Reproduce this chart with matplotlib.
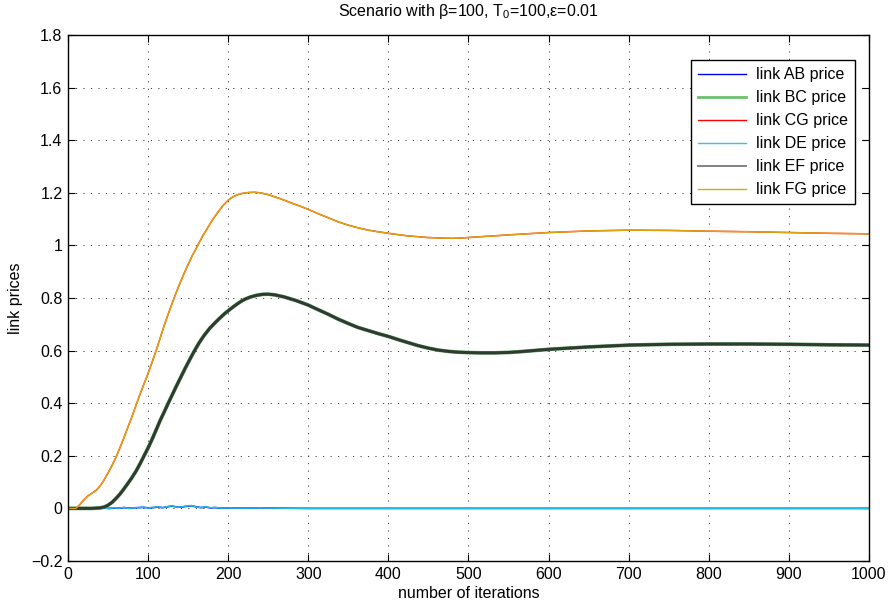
import matplotlib
matplotlib.use("Agg")
import matplotlib.pyplot as plt
from matplotlib.lines import Line2D
from matplotlib.ticker import FuncFormatter

plt.rcParams['font.family'] = ['Liberation Sans', 'DejaVu Sans']
plt.rcParams['mathtext.fontset'] = 'custom'
plt.rcParams['mathtext.rm'] = 'Liberation Sans'
plt.rcParams['mathtext.it'] = 'Liberation Sans:italic'

FS = 11.5

# curva de dalt (CG i FG es solapen)
upper_x = [0, 10, 15, 20, 25, 30, 35, 40, 45, 50, 55, 60, 65, 70, 75, 80, 85, 90, 95, 100,
           105, 110, 115, 120, 125, 130, 135, 140, 145, 150, 155, 162, 168, 175, 181, 188, 194,
           200, 206, 212, 218, 225, 233, 240, 250, 260, 270, 280, 290, 300, 312, 325, 337, 350,
           362, 375, 387, 400, 412, 425, 437, 449, 465, 479, 490, 500, 525, 550, 600, 650, 700,
           750, 800, 850, 900, 950, 1000]
upper_y = [0, 0, 0.015, 0.033, 0.048, 0.058, 0.068, 0.085, 0.108, 0.135, 0.163, 0.195, 0.232,
           0.27, 0.31, 0.35, 0.393, 0.435, 0.474, 0.513, 0.556, 0.6, 0.647, 0.695, 0.738, 0.78,
           0.82, 0.858, 0.894, 0.928, 0.96, 1.0, 1.035, 1.07, 1.1, 1.13, 1.153, 1.172, 1.185,
           1.193, 1.198, 1.201, 1.202, 1.2, 1.193, 1.183, 1.172, 1.16, 1.149, 1.137, 1.121,
           1.105, 1.09, 1.077, 1.067, 1.058, 1.052, 1.046, 1.041, 1.036, 1.033, 1.030, 1.028,
           1.027, 1.028, 1.030, 1.035, 1.04, 1.049, 1.055, 1.058, 1.057, 1.054, 1.052, 1.049,
           1.046, 1.044]

# curva del mig (BC i EF es solapen)
mid_x = [0, 30, 40, 45, 50, 55, 60, 65, 70, 75, 80, 85, 90, 95, 100, 105, 110, 115, 120, 125,
         130, 135, 141, 146, 152, 158, 164, 170, 177, 183, 189, 195, 201, 207, 212, 217, 222,
         228, 235, 243, 250, 258, 270, 285, 300, 312, 325, 337, 350, 362, 375, 388, 401, 413,
         425, 437, 449, 462, 475, 487, 500, 515, 533, 550, 565, 601, 650, 701, 750, 801, 850,
         901, 950, 1000]
mid_y = [0, 0, 0.002, 0.005, 0.012, 0.023, 0.038, 0.055, 0.075, 0.096, 0.118, 0.142, 0.17, 0.2,
         0.23, 0.263, 0.298, 0.334, 0.366, 0.399, 0.431, 0.463, 0.5, 0.531, 0.566, 0.6, 0.631,
         0.658, 0.685, 0.704, 0.722, 0.739, 0.754, 0.768, 0.779, 0.789, 0.797, 0.804, 0.81,
         0.814, 0.8145, 0.812, 0.804, 0.79, 0.773, 0.756, 0.738, 0.72, 0.703, 0.688, 0.676,
         0.664, 0.653, 0.641, 0.63, 0.619, 0.61, 0.602, 0.597, 0.594, 0.5925, 0.5915, 0.5915,
         0.593, 0.596, 0.605, 0.614, 0.621, 0.624, 0.625, 0.625, 0.624, 0.622, 0.621]

# curves de baix (AB i DE, prop de zero)
low_x = [0, 40, 46, 52, 58, 64, 70, 76, 82, 88, 94, 100, 106, 112, 118, 124, 130, 136, 142,
         148, 154, 160, 166, 172, 178, 184, 190, 200, 220, 240, 260, 300, 400, 600, 800, 1000]
ab_y = [0, 0, 0.001, 0.0, 0.002, 0.001, 0.003, 0.001, 0.002, 0.003, 0.004, 0.002, 0.003, 0.005,
        0.003, 0.006, 0.009, 0.005, 0.005, 0.008, 0.010, 0.006, 0.003, 0.005, 0.002, 0.003,
        0.001, 0.002, 0.001, 0.002, 0.001, 0.0, 0.0, 0.0, 0.0, 0.0]
de_y = [0, 0, 0.002, -0.001, 0.003, 0.001, 0.004, 0.0, 0.003, 0.002, 0.005, 0.001, 0.004, 0.006,
        0.002, 0.007, 0.010, 0.004, 0.006, 0.009, 0.011, 0.005, 0.003, 0.006, 0.002, 0.004,
        0.001, 0.002, 0.001, 0.002, 0.001, 0.0, 0.0, 0.0, 0.0, 0.0]

names = ['link AB price', 'link BC price', 'link CG price', 'link DE price',
         'link EF price', 'link FG price']
legend_colors = ['#0000ff', '#6fbf6f', '#ff0000', '#20d0dc', '#777777', '#c8b400']

fig = plt.figure(figsize=(8.9, 6.07), dpi=100)
ax = fig.add_axes([0.0764, 0.0758, 0.9, 0.8665])

ax.plot(low_x, ab_y, color='#0000ff', lw=1.2)
ax.plot(mid_x, mid_y, color='#5fa05f', lw=2.7)
ax.plot(upper_x, upper_y, color='#ff3000', lw=1.1)
ax.plot(low_x, de_y, color='#20c0dc', lw=1.1)
ax.plot(mid_x, mid_y, color='#2f3a30', lw=2.1)
ax.plot(upper_x, upper_y, color='#dca414', lw=1.0)

ax.set_xlim(0, 1000)
ax.set_ylim(-0.2, 1.8)
ax.set_xticks(range(0, 1001, 100))
ax.set_yticks([-0.2, 0, 0.2, 0.4, 0.6, 0.8, 1, 1.2, 1.4, 1.6, 1.8])
ax.yaxis.set_major_formatter(FuncFormatter(lambda v, p: ('%g' % round(v, 2)).replace('-', '\u2212')))
ax.tick_params(direction='in', length=5, width=0.8, top=True, right=True, labelsize=FS, pad=4)
for s in ax.spines.values():
    s.set_linewidth(1.0)
ax.grid(True, color='#404040', lw=0.7, linestyle=(0, (1.2, 6.5)))

ax.set_xlabel('number of iterations', fontsize=FS, labelpad=3)
ax.set_ylabel('link prices', fontsize=FS, labelpad=6)
ax.set_title('Scenario with β=100, T$_0$=100,ε=0.01', fontsize=FS, pad=14)

handles = [Line2D([], [], color=c, lw=2.0 if i == 1 else (1.3 if i == 4 else 1.0))
           for i, c in enumerate(legend_colors)]
leg = ax.legend(handles, names, loc='upper right', bbox_to_anchor=(0.9825, 0.9525),
                fontsize=FS, fancybox=False, framealpha=1, edgecolor='black',
                handlelength=3.0, labelspacing=0.5, borderpad=0.45, handletextpad=0.6,
                borderaxespad=0)
leg.get_frame().set_linewidth(1.0)

fig.savefig('out.png', dpi=100)
